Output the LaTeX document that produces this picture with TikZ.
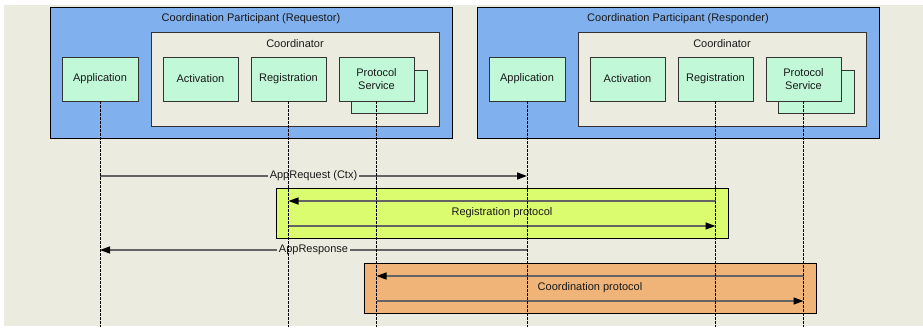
\documentclass[tikz,border=0pt]{standalone}
\usepackage{fontspec}
\setmainfont{Liberation Sans}
\usetikzlibrary{arrows.meta}
\definecolor{bgc}{RGB}{236,235,224}
\definecolor{partblue}{RGB}{128,176,238}
\definecolor{compgreen}{RGB}{192,248,216}
\definecolor{regyellow}{RGB}{218,252,110}
\definecolor{coordorange}{RGB}{240,180,120}
\definecolor{msggray}{RGB}{100,100,100}
\tikzset{
  txt/.style={font=\fontsize{11}{12.5}\selectfont, text=black!90},
  partbox/.style={draw=black, line width=0.9pt, fill=partblue, inner sep=0pt, minimum width=402pt, minimum height=131pt},
  coordbox/.style={draw=black!80, line width=0.8pt, fill=bgc, inner sep=0pt, minimum width=288pt, minimum height=94pt},
  comp/.style={draw=black!80, line width=0.8pt, fill=compgreen, inner sep=0pt, minimum width=75pt, minimum height=44pt, txt, align=center},
  protobox/.style={draw=black, line width=0.8pt, inner sep=0pt, minimum width=452pt, minimum height=50pt},
  lifeline/.style={draw=black, line width=0.8pt, dash pattern=on 3pt off 1pt},
  msg/.style={draw=msggray, line width=1.3pt},
  tip/.style={-{Triangle[length=10pt,width=7pt,fill=black,color=black]}},
  lbl/.style={txt, fill=bgc, inner sep=1.5pt},
}
\begin{document}
\begin{tikzpicture}[x=1pt,y=-1pt]
\useasboundingbox (0,0) rectangle (923,327);
\fill[white] (0,0) rectangle (923,327);
\fill[bgc] (4,5) rectangle (923,326);
% ---------- Requestor ----------
\node[partbox] (rq) at (251,72.5) {};
\node[txt] (rqt) at (251,19) {Coordination Participant (Requestor)};
\node[coordbox] (rqc) at (295,79) {};
\node[txt] (rqct) at (295,44) {Coordinator};
\node[comp, minimum width=76pt] (rqa) at (100,79) {Application};
\node[comp] (rqact) at (200.5,79) {Activation};
\node[comp] (rqreg) at (288.5,79) {Registration};
\node[comp, minimum width=76pt, minimum height=43pt] (rqps2) at (389,91.5) {};
\node[comp] (rqps) at (376.5,79) {Protocol\\Service};
% ---------- Responder ----------
\node[partbox] (rs) at (678,72.5) {};
\node[txt] (rst) at (678,19) {Coordination Participant (Responder)};
\node[coordbox] (rsc) at (722,79) {};
\node[txt] (rsct) at (722,44) {Coordinator};
\node[comp, minimum width=76pt] (rsa) at (527,79) {Application};
\node[comp] (rsact) at (627.5,79) {Activation};
\node[comp] (rsreg) at (715.5,79) {Registration};
\node[comp, minimum width=76pt, minimum height=43pt] (rsps2) at (816,91.5) {};
\node[comp] (rsps) at (803.5,79) {Protocol\\Service};
% ---------- protocol boxes ----------
\node[protobox, fill=regyellow] (regbox) at (502,213) {};
\node[protobox, fill=coordorange] (cobox) at (590,288) {};
% ---------- message levels ----------
\coordinate (m1) at (0,176);
\coordinate (m2) at (0,201);
\coordinate (m3) at (0,226);
\coordinate (m4) at (0,250);
\coordinate (m5) at (0,276);
\coordinate (m6) at (0,301);
\coordinate (bot) at (0,327);
% ---------- messages ----------
\draw[msg, tip] (rqa.south |- m1) -- node[lbl] (l1) {AppRequest (Ctx)} (rsa.south |- m1);
\draw[msg, tip] (rsreg.south |- m2) -- (rqreg.south |- m2);
\draw[msg, tip] (rqreg.south |- m3) -- (rsreg.south |- m3);
\node[txt] (l2) at (regbox.center) {Registration protocol};
\draw[msg, tip] (rsa.south |- m4) -- node[lbl] (l3) {AppResponse} (rqa.south |- m4);
\draw[msg, tip] (rsps.south |- m5) -- (rqps.south |- m5);
\draw[msg, tip] (rqps.south |- m6) -- (rsps.south |- m6);
\node[txt] (l4) at (cobox.center) {Coordination protocol};
% ---------- lifelines ----------
\draw[lifeline] (rqa.south) -- (rqa.south |- bot);
\draw[lifeline] (rqreg.south) -- (rqreg.south |- bot);
\draw[lifeline] (rqps.south) -- (rqps.south |- bot);
\draw[lifeline] (rsa.south) -- (rsa.south |- bot);
\draw[lifeline] (rsreg.south) -- (rsreg.south |- bot);
\draw[lifeline] (rsps.south) -- (rsps.south |- bot);
\end{tikzpicture}
\end{document}
